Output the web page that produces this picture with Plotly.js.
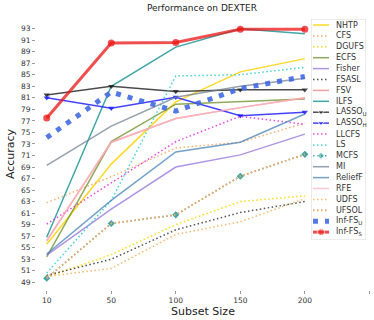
<!DOCTYPE html>
<html>
<head>
<meta charset="utf-8">
<script src="https://cdn.plot.ly/plotly-3.0.1.min.js"></script>
<style>
  html, body { margin: 0; padding: 0; background: #fff; overflow: hidden; }
  #chart { width: 374px; height: 320px; }
</style>
</head>
<body>
<div id="chart"></div>
<script>
// subset sizes (categories on the x axis)
var subsetSizes = ['10', '50', '100', '150', '200'];
var yTicks = [49, 51, 53, 55, 57, 59, 61, 63, 65, 67, 69, 71, 73, 75, 77, 79, 81, 83, 85, 87, 89, 91, 93];

// accuracy per method
var nhtp    = [55.6, 69.5, 80.3, 85.5, 87.8];
var cfs     = [62.8, 67.3, 72.3, 73.3, 76.6];
var dgufs   = [49.9, 53.8, 59.0, 63.0, 64.0];
var ecfs    = [53.4, 73.4, 79.9, 80.3, 80.8];
var fisher  = [53.7, 61.7, 69.0, 71.1, 74.7];
var fsasl   = [50.2, 53.0, 58.1, 61.1, 63.0];
var fsv     = [56.2, 73.3, 77.4, 79.3, 81.0];
var ilfs    = [56.8, 83.0, 89.8, 93.0, 92.1];
var lassoU  = [81.5, 83.0, 82.1, 82.4, 82.4];
var lassoH  = [81.0, 79.2, 81.1, 77.9, 78.5];
var llcfs   = [59.1, 66.3, 73.4, 77.8, 76.4];
var ls      = [50.6, 63.2, 84.8, 85.0, 86.3];
var mcfs    = [49.7, 59.2, 60.7, 67.4, 71.2];
var mi      = [69.3, 76.1, 81.1, 83.0, 84.4];
var relieff = [53.9, 63.2, 71.6, 73.3, 78.2];
var rfe     = [56.2, 73.3, 77.4, 79.3, 81.0];
var udfs    = [50.0, 51.4, 57.3, 59.5, 63.5];
var ufsol   = [49.7, 59.2, 60.7, 67.4, 71.2];
var infFSU  = [74.1, 82.0, 78.7, 82.6, 84.7];
var infFSS  = [77.5, 90.5, 90.6, 92.9, 92.9];

var DOT = '1.5px,2.5px';

// one entry per method, in legend order (later ones drawn on top)
var series = [
  {name: 'NHTP',   y: nhtp,    color: 'rgba(255,210,0,0.85)',   width: 1.5, dash: 'solid'},
  {name: 'CFS',    y: cfs,     color: 'rgba(244,164,96,0.85)',  width: 1.5, dash: DOT},
  {name: 'DGUFS',  y: dgufs,   color: 'rgba(255,215,0,0.9)',    width: 1.5, dash: DOT},
  {name: 'ECFS',   y: ecfs,    color: 'rgba(107,142,35,0.75)',  width: 1.5, dash: 'solid'},
  {name: 'Fisher', y: fisher,  color: 'rgba(147,112,219,0.75)', width: 1.5, dash: 'solid'},
  {name: 'FSASL',  y: fsasl,   color: 'rgba(40,40,40,0.8)',     width: 1.5, dash: DOT},
  {name: 'FSV',    y: fsv,     color: 'rgba(240,128,128,0.75)', width: 1.5, dash: 'solid'},
  {name: 'ILFS',   y: ilfs,    color: 'rgba(32,150,150,0.85)',  width: 1.5, dash: 'solid'},
  {name: 'LASSO<sub>U</sub>', y: lassoU, color: 'rgba(30,30,30,0.8)', width: 1.5, dash: 'solid', symbol: 'triangle-down', size: 5.5},
  {name: 'LASSO<sub>H</sub>', y: lassoH, color: 'rgba(20,20,255,0.8)', width: 1.5, dash: 'solid', symbol: 'triangle-down', size: 5.5},
  {name: 'LLCFS',  y: llcfs,   color: 'rgba(225,40,225,0.85)',  width: 1.5, dash: DOT},
  {name: 'LS',     y: ls,      color: 'rgba(50,205,210,0.9)',   width: 1.5, dash: DOT},
  {name: 'MCFS',   y: mcfs,    color: 'rgba(32,150,150,0.85)',  width: 1.5, dash: DOT, symbol: 'diamond', size: 5.5},
  {name: 'MI',     y: mi,      color: 'rgba(112,128,144,0.75)', width: 1.5, dash: 'solid'},
  {name: 'ReliefF', y: relieff, color: 'rgba(70,130,180,0.75)', width: 1.5, dash: 'solid'},
  {name: 'RFE',    y: rfe,     color: 'rgba(255,182,193,0.75)', width: 1.5, dash: 'solid'},
  {name: 'UDFS',   y: udfs,    color: 'rgba(240,175,90,0.85)',  width: 1.5, dash: DOT},
  {name: 'UFSOL',  y: ufsol,   color: 'rgba(242,170,110,1)',    width: 2, dash: DOT},
  {name: 'Inf-FS<sub>U</sub>', y: infFSU, color: 'rgba(65,105,225,0.9)', width: 5, dash: '5px,7px'},
  {name: 'Inf-FS<sub>S</sub>', y: infFSS, color: 'rgba(235,20,20,0.75)', width: 3, dash: 'solid', symbol: 'circle', size: 7}
];

var xIdx = subsetSizes.map(function(s, i) { return i; });
var traces = [];
var annotations = [];

// legend box geometry, in pixels inside the box (x2/y2 axes use pixel units)
var boxW = 55, boxH = 221, rowTop = 6, rowStep = 10.9;

series.forEach(function(s, i) {
  var hasMarker = !!s.symbol;
  var main = {
    x: xIdx, y: s.y, type: 'scatter',
    mode: hasMarker ? 'lines+markers' : 'lines',
    line: {color: s.color, width: s.width, dash: s.dash},
    name: s.name, showlegend: false, hoverinfo: 'skip'
  };
  if (hasMarker) main.marker = {symbol: s.symbol, size: s.size, color: s.color};
  traces.push(main);

  // legend sample on the second axes
  var row = rowTop + i * rowStep;
  var sample = {
    x: [2, 10, 18], y: [row, row, row], type: 'scatter',
    xaxis: 'x2', yaxis: 'y2',
    mode: hasMarker ? 'lines+markers' : 'lines',
    line: {color: s.color, width: s.width, dash: s.dash},
    showlegend: false, hoverinfo: 'skip'
  };
  if (hasMarker) sample.marker = {symbol: s.symbol, size: [0, s.size, 0], color: s.color};
  traces.push(sample);

  annotations.push({
    xref: 'x2', yref: 'y2', x: 23, y: row,
    xanchor: 'left', yanchor: 'middle', showarrow: false,
    text: s.name, font: {size: 8, color: '#333'}
  });
});

var layout = {
  width: 374, height: 320,
  margin: {l: 36, r: 4, t: 18, b: 30},
  paper_bgcolor: '#fff', plot_bgcolor: '#fff',
  font: {family: 'DejaVu Sans, sans-serif', color: '#222'},
  showlegend: false,
  title: {
    text: 'Performance on DEXTER',
    font: {size: 9, color: '#222'},
    x: 0.54, xanchor: 'center', y: 0.975, yanchor: 'middle'
  },
  xaxis: {
    range: [-0.166, 5.01],
    tickvals: xIdx,
    ticktext: subsetSizes,
    showgrid: false, zeroline: false, showline: false,
    ticks: 'outside', ticklen: 3, tickcolor: '#999',
    minor: {tickvals: [5], ticks: 'outside', ticklen: 3, tickcolor: '#999', showgrid: false},
    tickfont: {size: 7.5, color: '#333'},
    title: {text: 'Subset Size', font: {size: 11, color: '#222'}, standoff: 3}
  },
  yaxis: {
    range: [47.66, 94.85],
    tickvals: yTicks,
    showgrid: false, zeroline: false, showline: false,
    ticks: 'outside', ticklen: 3, tickcolor: '#999',
    tickfont: {size: 7.5, color: '#333'},
    title: {text: 'Accuracy', font: {size: 11, color: '#222'}, standoff: 4}
  },
  xaxis2: {
    domain: [0.8234, 0.988], range: [0, boxW], anchor: 'y2',
    visible: false, fixedrange: true
  },
  yaxis2: {
    domain: [0.1838, 0.9963], range: [boxH, 0], anchor: 'x2',
    visible: false, fixedrange: true
  },
  shapes: [{
    type: 'rect', xref: 'x2', yref: 'y2', x0: 0, x1: boxW, y0: 0, y1: boxH,
    line: {color: '#d8d8d8', width: 1}, fillcolor: 'rgba(255,255,255,0.85)', layer: 'below'
  }],
  annotations: annotations
};

Plotly.newPlot('chart', traces, layout, {staticPlot: true, displayModeBar: false});
</script>
</body>
</html>
